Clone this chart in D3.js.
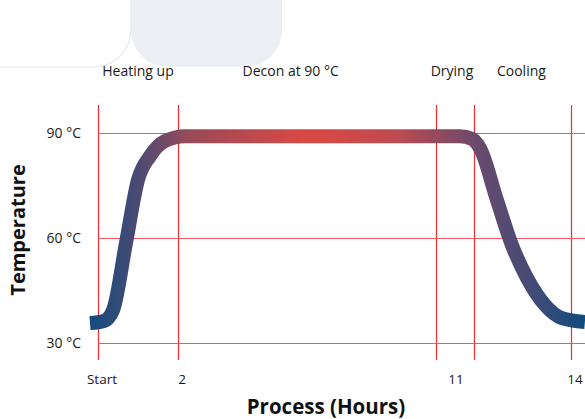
<!DOCTYPE html>
<html>
<head>
<meta charset="utf-8">
<script src="https://cdn.jsdelivr.net/npm/d3@7"></script>
<style>
  body { margin: 0; background: #fff; }
  svg { display: block; font-family: "Open Sans", "Noto Sans", sans-serif; }
</style>
</head>
<body>
<div id="chart"></div>
<script>
// hours along the process (schematic axis)
var hourStops = [0, 2, 11, 14];
var xTickValues = [0, 2, 11, 14];
var xTickLabels = ["Start", "2", "11", "14"];
var phaseBounds = [0, 2, 10.47, 11.55, 14];
var phaseNames = ["Heating up", "Decon at 90 °C", "Drying", "Cooling"];
var phaseLabelAt = [1, 5.7, 11, 12.75];

var tempTicks = [30, 60, 90];

// temperature curve (hours, °C)
var curveHours = [-0.2, 0.15, 0.38, 0.7, 1.0, 1.3, 1.675, 2.23, 4, 7, 10, 11.2, 11.5, 11.73, 12.11, 12.51, 12.89, 13.34, 13.77, 14.35];
var curveTemps = [35.7, 36.3, 39.5, 58.6, 76.6, 83.4, 87.7, 89.1, 89.1, 89.1, 89.1, 89.1, 88.3, 85.1, 71.7, 58.0, 48.6, 40.9, 37.1, 36.0];

var width = 585, height = 419;

var svg = d3.select('#chart')
    .append('svg')
    .attr('width', width)
    .attr('height', height);

// decorative tabs at the top left
svg.append('path')
    .attr('d', 'M-20,-20 H131 V30 A37,37 0 0 1 94,67 H-20 Z')
    .attr('fill', '#fff')
    .attr('stroke', '#dfe5ec')
    .attr('stroke-width', 1);
svg.append('path')
    .attr('d', 'M131,-20 H282 V30 A37,37 0 0 1 245,67 H168 A37,37 0 0 1 131,30 Z')
    .attr('fill', '#ebeef3');

var xscale = d3.scaleLinear().domain(hourStops).range([98, 178, 452, 571]);
var yscale = d3.scaleLinear().domain([30, 90]).range([343, 133]);

// grid
var grid = svg.append('g');
grid.selectAll('line.v')
    .data(phaseBounds)
    .enter()
    .append('line')
    .attr('class', 'v')
    .attr('x1', function(d){ return Math.round(xscale(d)) + 0.5; })
    .attr('x2', function(d){ return Math.round(xscale(d)) + 0.5; })
    .attr('y1', 105)
    .attr('y2', 360)
    .style('stroke', '#ee2a33')
    .style('stroke-width', 1.2);

grid.selectAll('line.h')
    .data(tempTicks)
    .enter()
    .append('line')
    .attr('class', 'h')
    .attr('x1', xscale(0))
    .attr('x2', width)
    .attr('y1', function(d){ return Math.round(yscale(d)) + 0.5; })
    .attr('y2', function(d){ return Math.round(yscale(d)) + 0.5; })
    .style('stroke', '#ef5660')
    .style('stroke-width', 1.2);

// gradient along the curve
var x0 = xscale(curveHours[0]), x1 = xscale(curveHours[curveHours.length - 1]);
var grad = svg.append('defs').append('linearGradient')
    .attr('id', 'heat')
    .attr('gradientUnits', 'userSpaceOnUse')
    .attr('x1', x0).attr('x2', x1)
    .attr('y1', 0).attr('y2', 0);
[[0, '#134c7e'], [0.1, '#4d4a72'], [0.2, '#9a4a5a'], [0.44, '#da4943'],
 [0.62, '#bf4a50'], [0.78, '#6a4a6c'], [0.9, '#414b76'], [1, '#0f4c7f']]
    .forEach(function(s){
        grad.append('stop').attr('offset', s[0]).attr('stop-color', s[1]);
    });

var line = d3.line()
    .x(function(d){ return xscale(d[0]); })
    .y(function(d){ return yscale(d[1]); })
    .curve(d3.curveMonotoneX);

svg.append('path')
    .datum(d3.zip(curveHours, curveTemps))
    .attr('d', line)
    .attr('fill', 'none')
    .attr('stroke', 'url(#heat)')
    .attr('stroke-width', 14);

// phase labels
svg.selectAll('text.phase')
    .data(phaseNames)
    .enter()
    .append('text')
    .attr('class', 'phase')
    .attr('x', function(d, i){ return xscale(phaseLabelAt[i]); })
    .attr('y', 76)
    .attr('text-anchor', 'middle')
    .style('font-size', '14px')
    .style('fill', '#1a1a1a')
    .text(function(d){ return d; });

// y tick labels
svg.selectAll('text.ytick')
    .data(tempTicks)
    .enter()
    .append('text')
    .attr('class', 'ytick')
    .attr('x', 81)
    .attr('y', function(d){ return yscale(d) + 5; })
    .attr('text-anchor', 'end')
    .style('font-size', '14px')
    .style('fill', '#1a1a1a')
    .text(function(d){ return d + ' °C'; });

// x tick labels
svg.selectAll('text.xtick')
    .data(xTickValues)
    .enter()
    .append('text')
    .attr('class', 'xtick')
    .attr('x', function(d){ return xscale(d) + 4; })
    .attr('y', 384)
    .attr('text-anchor', 'middle')
    .style('font-size', '13.5px')
    .style('fill', '#1a1a1a')
    .text(function(d, i){ return xTickLabels[i]; });

// axis titles
svg.append('text')
    .attr('transform', 'translate(25,230) rotate(-90)')
    .attr('text-anchor', 'middle')
    .style('font-size', '20px')
    .style('font-weight', 'bold')
    .style('fill', '#111')
    .text('Temperature');

svg.append('text')
    .attr('x', 326)
    .attr('y', 414)
    .attr('text-anchor', 'middle')
    .style('font-size', '20.5px')
    .style('font-weight', 'bold')
    .style('fill', '#111')
    .text('Process (Hours)');
</script>
</body>
</html>
